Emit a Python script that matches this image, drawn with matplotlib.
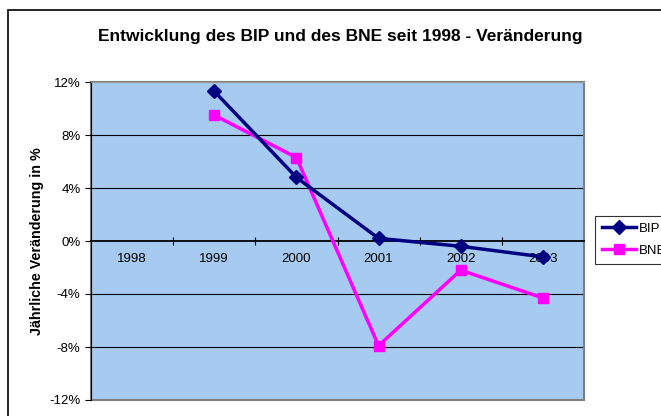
import matplotlib.pyplot as plt
import matplotlib.patches as patches
import matplotlib.ticker as mticker

plt.rcParams['font.family'] = ['Liberation Sans', 'DejaVu Sans']

years = ['1998', '1999', '2000', '2001', '2002', '2003']
bip_x = [1, 2, 3, 4, 5]
bip = [11.3, 4.8, 0.2, -0.4, -1.2]
bne_x = [1, 2, 3, 4, 5]
bne = [9.5, 6.3, -7.9, -2.2, -4.3]
yticks = [-12, -8, -4, 0, 4, 8, 12]

W, H = 661, 416
fig = plt.figure(figsize=(W / 100, H / 100), dpi=100)

# outer chart frame (cut off on right and bottom)
fig.patches.append(patches.Rectangle((8 / W, -0.1), 1.2, 1 - 10 / H + 0.1,
                                     transform=fig.transFigure, fill=False,
                                     edgecolor='black', linewidth=1.2,
                                     clip_on=False))

ax = fig.add_axes([91 / W, 16 / H, 493 / W, 318 / H])
ax.set_facecolor('#A6CAF0')

for v in [-8, -4, 4, 8]:
    ax.axhline(v, color='black', linewidth=0.8, zorder=1)

ax.plot(bip_x, bip, color='#000080', linewidth=2.5, marker='D',
        markersize=7, label='BIP', zorder=4)
ax.plot(bne_x, bne, color='#FF00FF', linewidth=2.5, marker='s',
        markersize=7, label='BNE', zorder=3)

ax.set_xlim(-0.5, 5.5)
ax.set_ylim(-12, 12)

ax.spines['bottom'].set_position(('data', 0))
ax.spines['bottom'].set_linewidth(1.3)
ax.spines['left'].set_color('black')
ax.spines['left'].set_linewidth(0.8)
ax.spines['top'].set_color('#9a9a9a')
ax.spines['right'].set_color('#808080')
ax.spines['right'].set_linewidth(1.5)
ax.add_patch(patches.Rectangle((0, 0), 1, 1, transform=ax.transAxes,
                               fill=False, edgecolor='#808080',
                               linewidth=1.5, zorder=0.5, clip_on=False))

ax.set_xticks([0.5, 1.5, 2.5, 3.5, 4.5])
ax.set_xticks(range(len(years)), minor=True)
ax.set_xticklabels([])
ax.set_xticklabels(years, minor=True)
ax.tick_params(axis='x', which='major', direction='inout', length=6, width=0.8)
ax.tick_params(axis='x', which='minor', length=0, pad=9, labelsize=9.5)

ax.set_yticks(yticks)
ax.yaxis.set_major_formatter(mticker.FuncFormatter(lambda v, p: f'{v:.0f}%'))
ax.tick_params(axis='y', direction='out', length=4, width=0.8, labelsize=9.5)

ax.set_ylabel('Jährliche Veränderung in %', fontsize=10.3, fontweight='bold',
              labelpad=4)

fig.text(340 / W, 1 - 36 / H,
         'Entwicklung des BIP und des BNE seit 1998 - Veränderung',
         ha='center', va='center', fontsize=12.5, fontweight='bold')

leg = fig.legend(loc='upper left', bbox_to_anchor=(595 / W, 1 - 216 / H),
                 frameon=True, fancybox=False, fontsize=9.5,
                 handlelength=2.6, handletextpad=0.2, borderpad=0.5,
                 labelspacing=0.75, borderaxespad=0)
leg.get_frame().set_edgecolor('black')
leg.get_frame().set_linewidth(0.8)

fig.savefig('out.png', dpi=100)
